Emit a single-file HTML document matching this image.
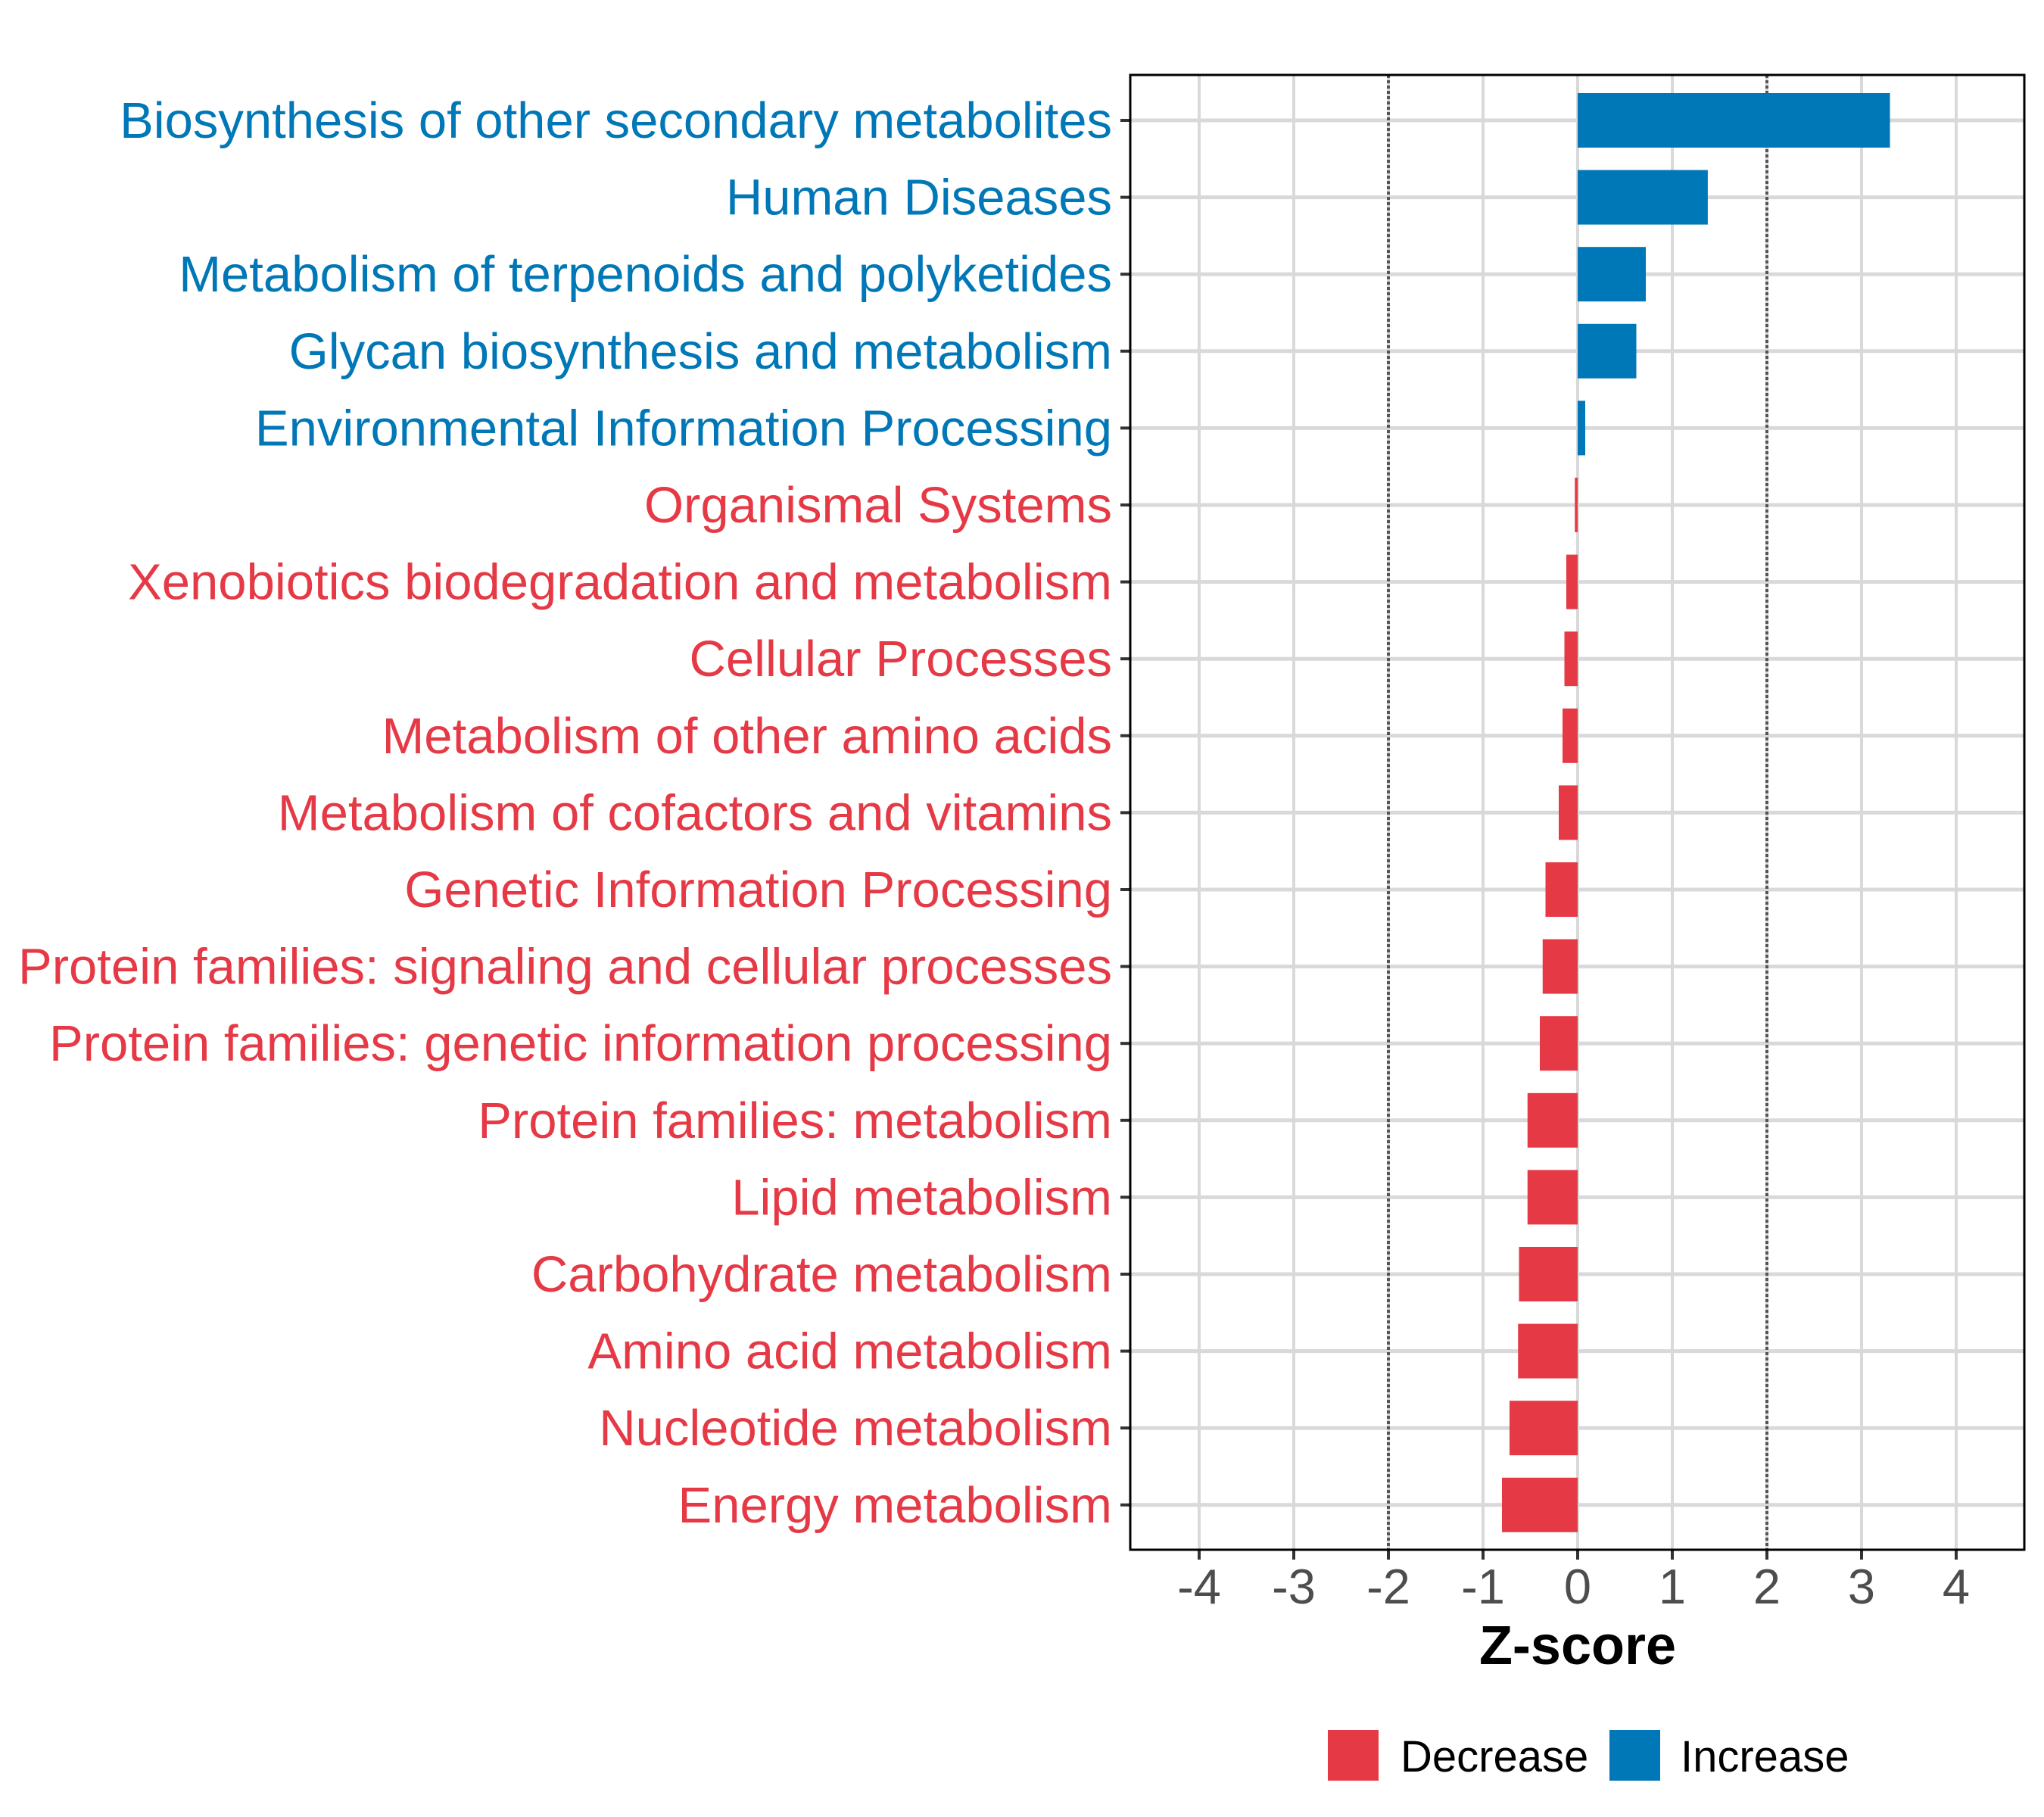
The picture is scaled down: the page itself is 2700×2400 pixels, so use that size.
<!DOCTYPE html>
<html><head><meta charset="utf-8"><style>
html,body{margin:0;padding:0;background:#fff;}
svg{display:block;font-family:"Liberation Sans",Arial,sans-serif;}
</style></head><body>
<svg id="chart" width="2700" height="2400" viewBox="0 0 2700 2400" xmlns="http://www.w3.org/2000/svg">
<g id="grid"></g>
<g id="bars"></g>
<g id="axes"></g>
<text x="2084" y="2198" font-size="72" font-weight="bold" text-anchor="middle" fill="#000">Z-score</text>
<g>
<rect x="1754" y="2285" width="67" height="67" fill="#E63946"/>
<text x="1850" y="2340" font-size="58" fill="#000">Decrease</text>
<rect x="2126" y="2285" width="67" height="67" fill="#0077B6"/>
<text x="2220" y="2340" font-size="58" fill="#000">Increase</text>
</g>
</svg>
<script>
const categories = ["Biosynthesis of other secondary metabolites","Human Diseases","Metabolism of terpenoids and polyketides","Glycan biosynthesis and metabolism","Environmental Information Processing","Organismal Systems","Xenobiotics biodegradation and metabolism","Cellular Processes","Metabolism of other amino acids","Metabolism of cofactors and vitamins","Genetic Information Processing","Protein families: signaling and cellular processes","Protein families: genetic information processing","Protein families: metabolism","Lipid metabolism","Carbohydrate metabolism","Amino acid metabolism","Nucleotide metabolism","Energy metabolism"];
const zscores = [3.30,1.375,0.72,0.62,0.08,-0.03,-0.12,-0.14,-0.16,-0.20,-0.34,-0.37,-0.40,-0.53,-0.53,-0.62,-0.63,-0.72,-0.80];
const xTicks = [-4,-3,-2,-1,0,1,2,3,4];
const xTickLabels = ["-4","-3","-2","-1","0","1","2","3","4"];
const thresholds = [-2,2];

const NS="http://www.w3.org/2000/svg";
const PL=1493, PR=2674, PT=99, PB=2047;
const x = v => 2084 + v*125;
const y = i => 159 + i*101.6;
const RED="#E63946", BLUE="#0077B6";
function mk(tag, attrs, parent){const e=document.createElementNS(NS,tag);for(const k in attrs)e.setAttribute(k,attrs[k]);parent.appendChild(e);return e;}
const grid=document.getElementById('grid'), bars=document.getElementById('bars'), axes=document.getElementById('axes');

xTicks.forEach((t,i)=>{
  const l=mk('line',{x1:x(t),x2:x(t),y1:PT,y2:PB,stroke:'#d9d9d9','stroke-width':4},grid);
  
  
  const tk=mk('line',{x1:x(t),x2:x(t),y1:PB,y2:PB+13,stroke:'#333','stroke-width':4},axes);
  
  
  const tl=mk('text',{x:x(t),y:2118,'font-size':65,'text-anchor':'middle',fill:'#4d4d4d'},axes);
  tl.textContent=xTickLabels[i];
  
  
});
categories.forEach((c,i)=>{
  const l=mk('line',{x1:PL,x2:PR,y1:y(i),y2:y(i),stroke:'#d9d9d9','stroke-width':5},grid);
  
  
});
thresholds.forEach(t=>{
  const l=mk('line',{x1:x(t),x2:x(t),y1:PT,y2:PB,stroke:'#555','stroke-width':4,'stroke-dasharray':'4 3'},grid);
  
  
});
categories.forEach((c,i)=>{
  const v=zscores[i], col=v>=0?BLUE:RED;
  const r=mk('rect',{x:Math.min(x(0),x(v)),y:y(i)-36,width:Math.abs(x(v)-x(0)),height:72,fill:col},bars);
  
  
  const tk=mk('line',{x1:PL-13,x2:PL,y1:y(i),y2:y(i),stroke:'#333','stroke-width':4},axes);
  
  
  const tl=mk('text',{x:1469,y:y(i)+23,'font-size':67,'text-anchor':'end',fill:col},axes);
  tl.textContent=c;
  
  
});
const frame=mk('rect',{x:PL,y:PT,width:PR-PL,height:PB-PT,fill:'none',stroke:'#000','stroke-width':3},axes);


</script>
</body></html>
